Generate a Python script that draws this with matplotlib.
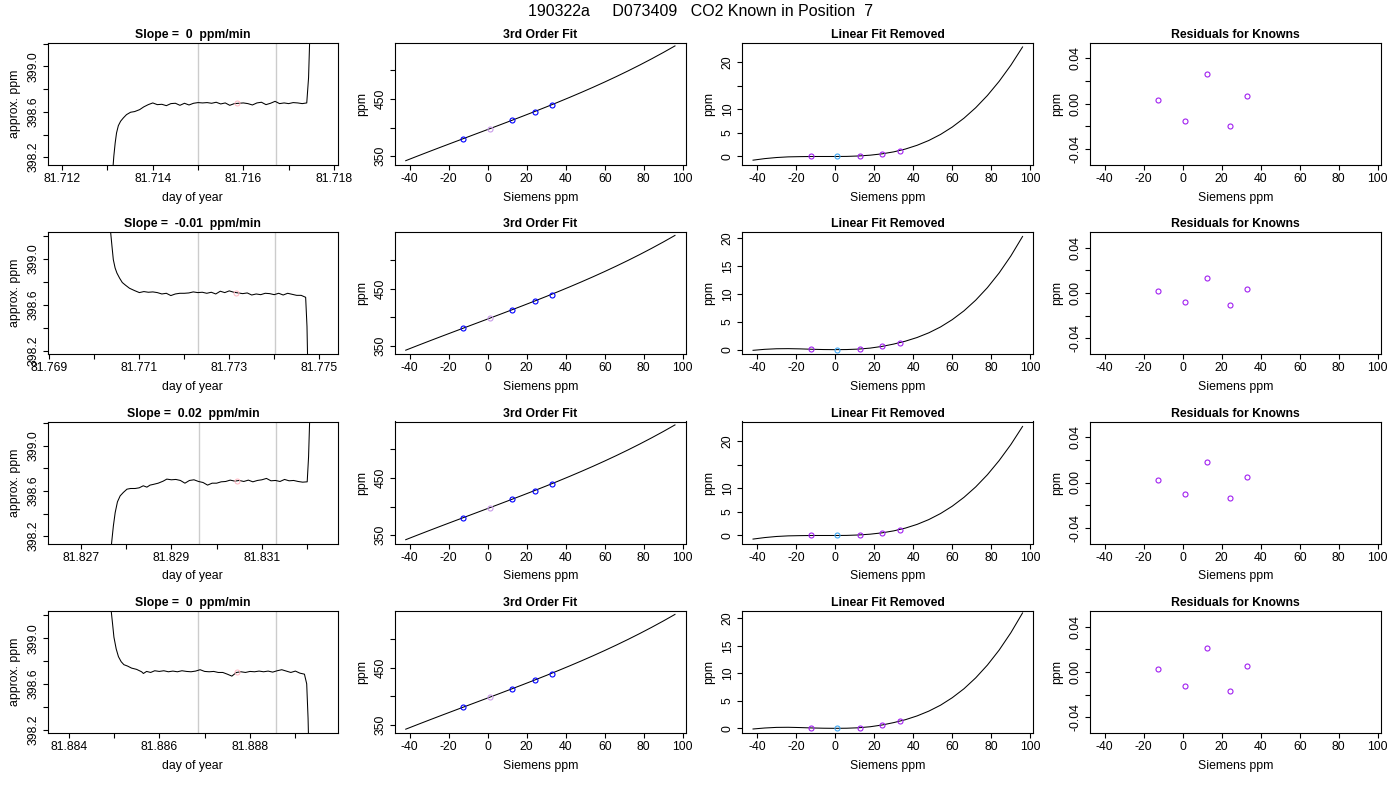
import matplotlib
matplotlib.use('Agg')
import matplotlib.pyplot as plt

plt.rcParams['font.family'] = ['Liberation Sans', 'DejaVu Sans']
plt.rcParams['axes.linewidth'] = 0.8
plt.rcParams['axes.unicode_minus'] = False

main_title = '190322a     D073409   CO2 Known in Position  7'
slope_titles = ['Slope =  0  ppm/min', 'Slope =  -0.01  ppm/min',
                'Slope =  0.02  ppm/min', 'Slope =  0  ppm/min']

# analyzer traces, one per injection (day of year, approx. ppm)
day_1 = [81.7119, 81.7130, 81.71311, 81.71314, 81.71317, 81.71320, 81.71324, 81.71329,
         81.71335, 81.71342, 81.71351, 81.71360, 81.71371, 81.71380, 81.71390,
         81.7140, 81.7141, 81.7142, 81.7143, 81.7144, 81.7145, 81.7146, 81.7147, 81.7148, 81.7149,
         81.7150, 81.7151, 81.7152, 81.7153, 81.7154, 81.7155, 81.7156, 81.7157, 81.7158, 81.7159,
         81.7160, 81.7161, 81.7162, 81.7163, 81.7164, 81.7165, 81.7166, 81.7167, 81.7168, 81.7169,
         81.7170, 81.7171, 81.7172, 81.7173, 81.7174,
         81.71744, 81.71747, 81.71750, 81.7179]
ppm_1 = [397.0, 397.6, 398.05, 398.209, 398.326, 398.414, 398.478, 398.517,
         398.546, 398.575, 398.596, 398.602, 398.619, 398.643, 398.663,
         398.678, 398.663, 398.666, 398.654, 398.672, 398.675, 398.657, 398.675, 398.660, 398.675,
         398.681, 398.678, 398.681, 398.675, 398.684, 398.669, 398.678, 398.657, 398.672, 398.675,
         398.678, 398.672, 398.660, 398.678, 398.684, 398.663, 398.675, 398.692, 398.672, 398.678,
         398.672, 398.681, 398.678, 398.672, 398.678,
         398.9, 399.3, 399.8, 405.0]

day_2 = [81.7698, 81.77033, 81.77036, 81.77039, 81.77042, 81.77046, 81.77050, 81.77056,
         81.77062, 81.77069, 81.77078, 81.77089, 81.77100,
         81.7711, 81.7712, 81.7713, 81.7714, 81.7715, 81.7716, 81.7717, 81.7718, 81.7719, 81.7720,
         81.7721, 81.7722, 81.7723, 81.7724, 81.7725, 81.7726, 81.7727, 81.7728, 81.7729, 81.7730,
         81.7731, 81.7732, 81.7733, 81.7734, 81.7735, 81.7736, 81.7737, 81.7738, 81.7739, 81.7740,
         81.7741, 81.7742, 81.7743, 81.7744, 81.7745, 81.7746, 81.7747,
         81.77473, 81.77476, 81.7752]
ppm_2 = [401.0, 399.4, 399.235, 399.112, 398.994, 398.921, 398.877, 398.832,
         398.794, 398.771, 398.744, 398.724, 398.706,
         398.715, 398.709, 398.712, 398.706, 398.694, 398.700, 398.680, 398.694, 398.700, 398.700,
         398.703, 398.712, 398.706, 398.709, 398.700, 398.709, 398.694, 398.718, 398.706, 398.721,
         398.709, 398.703, 398.697, 398.703, 398.685, 398.694, 398.688, 398.700, 398.697, 398.688,
         398.700, 398.685, 398.700, 398.691, 398.682, 398.682, 398.665,
         398.41, 397.8, 397.0]

day_3 = [81.8270, 81.82765, 81.82768, 81.82772, 81.82776, 81.82781, 81.82787, 81.82794,
         81.82802, 81.82810, 81.82820, 81.82829, 81.82838, 81.82846, 81.82853, 81.82860,
         81.82871, 81.82882, 81.82890,
         81.8290, 81.8291, 81.8292, 81.8293, 81.8294, 81.8295, 81.8296, 81.8297, 81.8298, 81.8299,
         81.8300, 81.8301, 81.8302, 81.8303, 81.8304, 81.8305, 81.8306, 81.8307, 81.8308, 81.8309,
         81.8310, 81.8311, 81.8312, 81.8313, 81.8314, 81.8315, 81.8316, 81.8317, 81.8318, 81.8319,
         81.8320,
         81.83203, 81.83206, 81.8321, 81.8326]
ppm_3 = [397.0, 397.9, 398.136, 398.290, 398.408, 398.503, 398.556, 398.586,
         398.615, 398.621, 398.621, 398.627, 398.645, 398.633, 398.651, 398.657,
         398.668, 398.686, 398.704,
         398.698, 398.701, 398.692, 398.668, 398.692, 398.698, 398.683, 398.674, 398.651, 398.668,
         398.668, 398.680, 398.683, 398.695, 398.686, 398.692, 398.683, 398.695, 398.680, 398.692,
         398.698, 398.710, 398.689, 398.692, 398.683, 398.701, 398.689, 398.692, 398.683, 398.677,
         398.680,
         398.9, 399.3, 400.0, 405.0]

day_4 = [81.8845, 81.88491, 81.88494, 81.88497, 81.88500, 81.88505, 81.88510, 81.88516,
         81.88522, 81.88530, 81.88539, 81.88550, 81.88561, 81.88565, 81.88572, 81.88581, 81.88590,
         81.8860, 81.8861, 81.8862, 81.8863, 81.8864, 81.8865, 81.8866, 81.8867, 81.8868, 81.8869,
         81.8870, 81.8871, 81.8872, 81.8873, 81.8874, 81.8875, 81.8876, 81.8877, 81.8878, 81.8879,
         81.8880, 81.8881, 81.8882, 81.8883, 81.8884, 81.8885, 81.8886, 81.8887, 81.8888, 81.8889,
         81.8890, 81.8891, 81.8892,
         81.88925, 81.88928, 81.88931, 81.8897]
ppm_4 = [401.0, 399.4, 399.238, 399.126, 399.009, 398.906, 398.838, 398.794,
         398.768, 398.756, 398.738, 398.727, 398.706, 398.691, 398.709, 398.700, 398.715,
         398.709, 398.715, 398.706, 398.712, 398.706, 398.715, 398.709, 398.706, 398.712, 398.724,
         398.709, 398.706, 398.709, 398.700, 398.700, 398.685, 398.668, 398.700, 398.706, 398.700,
         398.709, 398.706, 398.712, 398.706, 398.712, 398.703, 398.715, 398.724, 398.712, 398.700,
         398.712, 398.694, 398.685,
         398.60, 398.30, 397.8, 397.0]

trace_days = [day_1, day_2, day_3, day_4]
trace_ppm = [ppm_1, ppm_2, ppm_3, ppm_4]
day_limits = [(81.71168, 81.71809), (81.76896, 81.77542),
              (81.82627, 81.83268), (81.88354, 81.88994)]
day_ticks = [[81.712, 81.713, 81.714, 81.715, 81.716, 81.717, 81.718],
             [81.769, 81.770, 81.771, 81.772, 81.773, 81.774, 81.775],
             [81.827, 81.828, 81.829, 81.830, 81.831, 81.832],
             [81.884, 81.885, 81.886, 81.887, 81.888, 81.889]]
ppm_limits = [(398.136, 399.21), (398.17, 399.235), (398.135, 399.213), (398.17, 399.238)]
ppm_ticks = [398.2, 398.4, 398.6, 398.8, 399.0, 399.2]
ppm_tick_labels = ['398.2', '', '398.6', '', '399.0', '']
window_starts = [81.7150, 81.77230, 81.82960, 81.88686]
window_ends = [81.71673, 81.77402, 81.83132, 81.88858]
window_mean_day = [81.71586, 81.77316, 81.83046, 81.88772]
window_mean_ppm = [398.675, 398.700, 398.686, 398.706]

# known standards
siemens = [-12.4, 1.2, 12.6, 24.2, 33.1]
assigned = [380.8, 398.3, 412.8, 427.9, 439.5]
curve_x = [-42, -36, -30, -24, -18, -12, -6, 0, 6, 12, 18, 24,
           30, 36, 42, 48, 54, 60, 66, 72, 78, 84, 90, 96]
fit_curve = [342.16, 350.17, 358.08, 365.90, 373.63, 381.34, 389.02, 396.70,
             404.40, 412.17, 420.02, 427.98, 436.08, 444.36, 452.84, 461.54,
             470.50, 479.75, 489.31, 499.21, 509.49, 520.17, 531.27, 542.83]
removed_1 = [-0.78, -0.45, -0.22, -0.08, -0.03, 0.0, 0.0, 0.0, 0.02, 0.11, 0.28, 0.56,
             0.98, 1.58, 2.38, 3.40, 4.68, 6.25, 8.13, 10.35, 12.95, 15.95, 19.37, 23.25]
removed_2 = [-0.12, 0.06, 0.16, 0.18, 0.14, 0.07, 0.02, 0.0, 0.02, 0.10, 0.28, 0.58,
             1.00, 1.52, 2.18, 3.02, 4.07, 5.38, 6.96, 8.87, 11.12, 13.75, 16.80, 20.30]
removed_3 = [-0.76, -0.44, -0.21, -0.08, -0.03, 0.0, 0.0, 0.0, 0.02, 0.11, 0.28, 0.56,
             0.98, 1.57, 2.36, 3.38, 4.66, 6.22, 8.10, 10.31, 12.90, 15.90, 19.30, 23.15]
removed_4 = [-0.12, 0.06, 0.17, 0.19, 0.14, 0.07, 0.02, 0.0, 0.02, 0.10, 0.29, 0.60,
             1.04, 1.57, 2.26, 3.13, 4.21, 5.57, 7.20, 9.18, 11.51, 14.23, 17.39, 21.00]
removed_curves = [removed_1, removed_2, removed_3, removed_4]
removed_points = [[0.0, 0.0, 0.07, 0.57, 1.27],
                  [0.06, 0.0, 0.07, 0.60, 1.26],
                  [0.0, 0.0, 0.08, 0.58, 1.25],
                  [0.04, 0.0, 0.07, 0.60, 1.30]]
removed_limits = [(-1.7, 24.2), (-0.78, 21.1), (-1.7, 24.2), (-0.85, 21.35)]
removed_tick_labels = [['0', '5', '10', '', '20'], ['0', '5', '10', '15', '20'],
                       ['0', '5', '10', '', '20'], ['0', '5', '10', '15', '20']]
residuals = [[0.0032, -0.0152, 0.0260, -0.0201, 0.0064],
             [0.0018, -0.0082, 0.0137, -0.0108, 0.0035],
             [0.0021, -0.0105, 0.0182, -0.0141, 0.0047],
             [0.0026, -0.0124, 0.0212, -0.0165, 0.0056]]

W, H = 1400, 800
col_px = [(47.7, 338.0), (395.0, 685.7), (742.3, 1033.3), (1090.0, 1380.7)]
row_px = [(42.5, 164.5), (232.0, 354.0), (421.5, 543.5), (611.0, 733.0)]
FS = 8.8
MS = 3.6

fig = plt.figure(figsize=(W / 100, H / 100), dpi=100)
fig.text(0.5, 1 - 12 / H, main_title, ha='center', va='center', fontsize=11.5)


def panel(r, c, title, xlabel, ylabel):
    x0, x1 = col_px[c]
    y0, y1 = row_px[r]
    ax = fig.add_axes([x0 / W, 1 - y1 / H, (x1 - x0) / W, (y1 - y0) / H])
    ax.tick_params(direction='out', length=3.6, width=0.8, labelsize=FS, pad=2.5)
    ax.set_title(title, fontsize=FS, fontweight='bold', pad=3.5)
    ax.set_xlabel(xlabel, fontsize=FS)
    ax.set_ylabel(ylabel, fontsize=FS)
    ax.xaxis.set_label_coords(0.5, -33 / (y1 - y0))
    ax.xaxis.label.set_va('center')
    ax.yaxis.set_label_coords(-33 / (x1 - x0), 0.5)
    ax.yaxis.label.set_va('center')
    return ax


def rotate_y(ax):
    for lbl in ax.get_yticklabels():
        lbl.set_rotation(90)
        lbl.set_va('center')


fit_ticks = [-40, -20, 0, 20, 40, 60, 80, 100]
knot_colors_fit = ['#0000FF', '#C89BE8', '#0000FF', '#0000FF', '#0000FF']
knot_colors_rem = ['#A020F0', '#3FA9F5', '#A020F0', '#A020F0', '#A020F0']

for r in range(4):
    # time series of the injection
    ax = panel(r, 0, slope_titles[r], 'day of year', 'approx. ppm')
    ax.axvline(window_starts[r], color='#CCCCCC', lw=1)
    ax.axvline(window_ends[r], color='#CCCCCC', lw=1)
    ax.plot(trace_days[r], trace_ppm[r], color='black', lw=0.75)
    ax.plot([window_mean_day[r]], [window_mean_ppm[r]], 'o', mfc='none',
            mec='#FFB6C1', ms=MS, mew=0.7)
    ax.set_xlim(day_limits[r])
    ax.set_ylim(ppm_limits[r])
    ax.set_xticks(day_ticks[r])
    ax.set_xticklabels(['%.3f' % t if i % 2 == 0 else '' for i, t in enumerate(day_ticks[r])])
    ax.set_yticks(ppm_ticks)
    ax.set_yticklabels(ppm_tick_labels)
    rotate_y(ax)

    # 3rd order fit
    ax = panel(r, 1, '3rd Order Fit', 'Siemens ppm', 'ppm')
    ax.plot(curve_x, fit_curve, color='black', lw=0.75)
    for x, y, col in zip(siemens, assigned, knot_colors_fit):
        ax.plot([x], [y], 'o', mfc='none', mec=col, ms=MS, mew=0.8)
    ax.set_xlim(-47.5, 101.5)
    ax.set_ylim(335.5, 548.8)
    ax.set_xticks(fit_ticks)
    ax.set_yticks([350, 400, 450, 500])
    ax.set_yticklabels(['350', '', '450', ''])
    rotate_y(ax)

    # cubic minus linear fit
    ax = panel(r, 2, 'Linear Fit Removed', 'Siemens ppm', 'ppm')
    ax.plot(curve_x, removed_curves[r], color='black', lw=0.75)
    for x, y, col in zip(siemens, removed_points[r], knot_colors_rem):
        ax.plot([x], [y], 'o', mfc='none', mec=col, ms=MS, mew=0.8)
    ax.set_xlim(-47.5, 101.5)
    ax.set_ylim(removed_limits[r])
    ax.set_xticks(fit_ticks)
    ax.set_yticks([0, 5, 10, 15, 20])
    ax.set_yticklabels(removed_tick_labels[r])
    rotate_y(ax)

    # residuals
    ax = panel(r, 3, 'Residuals for Knowns', 'Siemens ppm', 'ppm')
    ax.plot(siemens, residuals[r], 'o', mfc='none', mec='#A020F0', ms=MS, mew=0.8)
    ax.set_xlim(-47.5, 101.5)
    ax.set_ylim(-0.054, 0.054)
    ax.set_xticks(fit_ticks)
    ax.set_yticks([-0.04, -0.02, 0.0, 0.02, 0.04])
    ax.set_yticklabels(['-0.04', '', '0.00', '', '0.04'])
    rotate_y(ax)

fig.savefig('out.png', dpi=100)
